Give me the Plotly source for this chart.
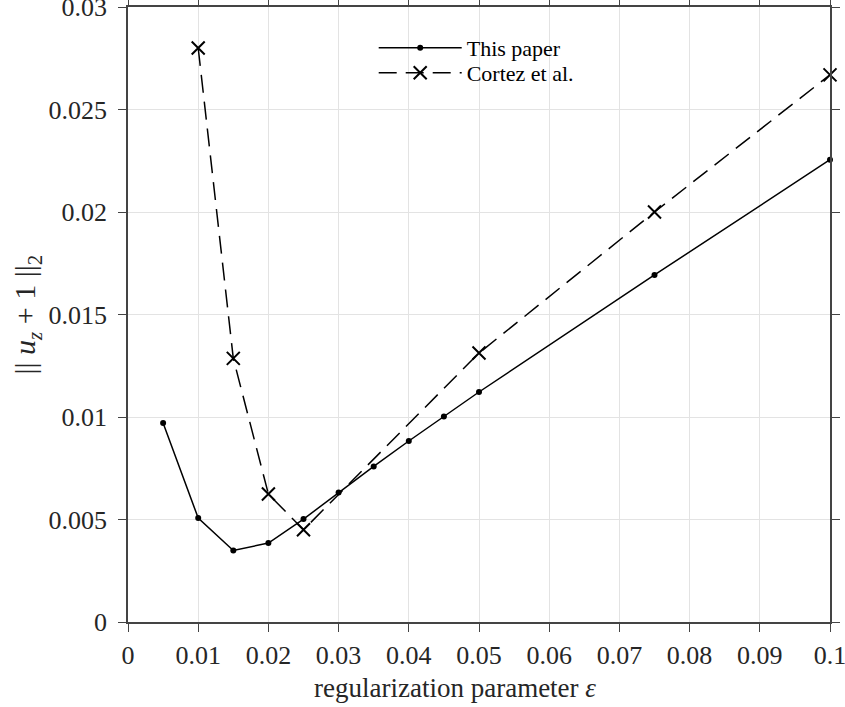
import plotly.graph_objects as go

eps_this = [0.005, 0.01, 0.015, 0.02, 0.025, 0.03, 0.035, 0.04, 0.045, 0.05, 0.075, 0.1]
err_this = [0.00971, 0.00507, 0.00349, 0.00385, 0.00502, 0.00632, 0.00759, 0.00883, 0.01003, 0.01122, 0.01693, 0.02255]

eps_cortez = [0.01, 0.015, 0.02, 0.025, 0.05, 0.075, 0.1]
err_cortez = [0.0280, 0.01286, 0.00624, 0.00450, 0.01312, 0.0200, 0.02669]

x_ticks = [0, 0.01, 0.02, 0.03, 0.04, 0.05, 0.06, 0.07, 0.08, 0.09, 0.1]
x_tick_labels = ["0", "0.01", "0.02", "0.03", "0.04", "0.05", "0.06", "0.07", "0.08", "0.09", "0.1"]
y_ticks = [0, 0.005, 0.01, 0.015, 0.02, 0.025, 0.03]
y_tick_labels = ["0", "0.005", "0.01", "0.015", "0.02", "0.025", "0.03"]

FONT = "Liberation Serif"

fig = go.Figure()
fig.add_trace(go.Scatter(
    x=eps_this, y=err_this, mode="lines+markers", name="This paper",
    line=dict(color="black", width=1.5),
    marker=dict(symbol="circle", size=6, color="black"),
    cliponaxis=False, legend="legend",
))
fig.add_trace(go.Scatter(
    x=eps_cortez, y=err_cortez, mode="lines+markers", name="Cortez et al.",
    line=dict(color="black", width=1.5, dash="18px,9px"),
    marker=dict(symbol="x-thin-open", size=13, color="black", line=dict(color="black", width=2)),
    cliponaxis=False, legend="legend2",
))

axis_common = dict(
    showline=True, linecolor="#444444", linewidth=1.5, mirror="ticks",
    ticks="outside", ticklen=8, tickwidth=1.2, tickcolor="#444444",
    showgrid=True, gridcolor="#e3e3e3", gridwidth=1, zeroline=False,
    tickfont=dict(family=FONT, size=26, color="#262626"),
    automargin=False, ticklabeloverflow="allow",
)

legend_common = dict(
    x=0.35, xanchor="left", yanchor="middle",
    bgcolor="rgba(0,0,0,0)", font=dict(family=FONT, size=22, color="black"),
    itemwidth=83,
)

fig.update_layout(
    width=845, height=707,
    margin=dict(l=128, r=15, t=7, b=85),
    paper_bgcolor="white", plot_bgcolor="white",
    font=dict(family=FONT, color="#262626"),
    xaxis=dict(range=[0, 0.1], tickvals=x_ticks, ticktext=x_tick_labels,
               ticklabelstandoff=1, **axis_common),
    yaxis=dict(range=[0, 0.03], tickvals=y_ticks, ticktext=y_tick_labels,
               ticklabelstandoff=6, **axis_common),
    legend=dict(y=0.9333, **legend_common),
    legend2=dict(y=0.8927, **legend_common),
    showlegend=True,
    annotations=[
        dict(text="regularization parameter <i>ε</i>", xref="paper", yref="paper",
             x=0.466, y=-0.107, xanchor="center", yanchor="middle", showarrow=False,
             font=dict(family=FONT, size=27, color="#262626")),
        dict(text="|| <i>u</i><sub><i>z</i></sub> + 1 ||<sub>2</sub>", xref="paper", yref="paper",
             x=-0.144, y=0.5, xanchor="center", yanchor="middle", showarrow=False, textangle=-90,
             font=dict(family=FONT, size=30, color="#262626")),
    ],
)

fig.write_html("out.html")
